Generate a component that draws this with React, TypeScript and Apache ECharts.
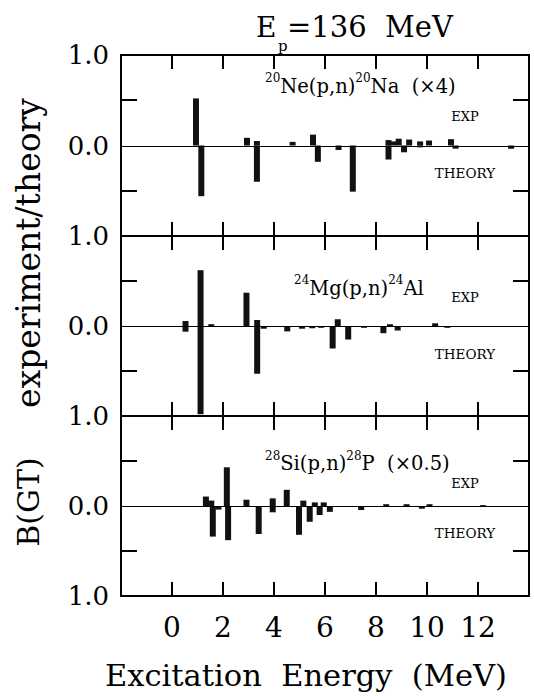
import React, { useEffect, useRef } from "react";
import * as echarts from "echarts";

// Excitation energy (MeV) / B(GT) pairs, EXP above axis, THEORY below
const neExp = [[0.94, 0.52], [2.94, 0.085], [3.33, 0.05], [4.73, 0.04], [5.53, 0.12], [8.49, 0.06], [8.69, 0.045], [8.89, 0.075], [9.3, 0.066], [9.73, 0.045], [10.08, 0.055], [10.94, 0.07]];
const neTheory = [[1.15, -0.56], [3.33, -0.4], [5.72, -0.18], [6.53, -0.05], [7.09, -0.51], [8.49, -0.155], [9.1, -0.075], [9.73, -0.02], [11.12, -0.035], [13.3, -0.035]];

const mgExp = [[0.53, 0.055], [1.12, 0.62], [1.54, 0.02], [2.92, 0.37], [3.34, 0.067], [6.5, 0.075], [8.55, 0.02], [10.32, 0.03]];
const mgTheory = [[0.53, -0.063], [1.12, -0.98], [3.34, -0.53], [3.6, -0.03], [4.52, -0.06], [5.1, -0.03], [5.5, -0.025], [5.85, -0.02], [6.3, -0.25], [6.91, -0.15], [7.53, -0.02], [8.29, -0.08], [8.85, -0.05], [10.8, -0.02]];

const siExp = [[1.33, 0.105], [1.54, 0.06], [2.15, 0.43], [2.92, 0.07], [3.95, 0.085], [4.5, 0.18], [5.15, 0.06], [5.6, 0.04], [5.95, 0.04], [8.4, 0.02], [9.2, 0.02], [10.1, 0.02], [12.2, 0.01]];
const siTheory = [[1.6, -0.34], [1.82, -0.04], [2.2, -0.38], [3.4, -0.31], [3.95, -0.07], [4.98, -0.32], [5.4, -0.175], [5.79, -0.1], [6.19, -0.065], [6.55, -0.01], [7.42, -0.045], [9.8, -0.03]];

const xTickLabels = [0, 2, 4, 6, 8, 10, 12];
const xTickValues = [0, 2, 4, 6, 8, 10, 12];
const yTickValues = [-0.5, 0.5];
const panelLabels = [
  { iso: "20", a: "Ne(p,n)", iso2: "20", b: "Na  (\u00d74)" },
  { iso: "24", a: "Mg(p,n)", iso2: "24", b: "Al" },
  { iso: "28", a: "Si(p,n)", iso2: "28", b: "P  (\u00d70.5)" },
];
const panelData = [
  [neExp, neTheory],
  [mgExp, mgTheory],
  [siExp, siTheory],
];

const FONT = "DejaVu Serif";

export default function App() {
  const ref = useRef<HTMLDivElement>(null);
  useEffect(() => {
    if (!ref.current) return;
    const chart = echarts.init(ref.current, undefined, { renderer: "svg" });
    const tops = [55, 236, 416];
    const heights = [181, 180, 180];
    const grids: any[] = [];
    const xAxes: any[] = [];
    const yAxes: any[] = [];
    const series: any[] = [];
    const fill = { fill: "#000" };
    const r = (v: number) => Math.round(v);
    for (let i = 0; i < 3; i++) {
      grids.push({ left: 121, width: 408, top: tops[i], height: heights[i], outerBoundsMode: "none" });
      const last = i === 2;
      xAxes.push({
        type: "value", gridIndex: i, position: "bottom", min: -2, max: 14, interval: 2,
        axisLine: { show: false, onZero: false }, splitLine: { show: false },
        axisTick: { show: false },
        axisLabel: {
          show: last, margin: 17, fontFamily: FONT, fontSize: 28, color: "#000",
          formatter: (v: number) => (xTickLabels.includes(v) ? String(v) : ""),
        },
      });
      yAxes.push({
        type: "value", gridIndex: i, position: "left", min: -1, max: 1, interval: 0.5,
        axisLine: { show: false, onZero: false }, splitLine: { show: false },
        axisTick: { show: false },
        axisLabel: {
          show: true, margin: 12, fontFamily: FONT, fontSize: 26, color: "#000",
          showMinLabel: true, showMaxLabel: true,
          formatter: (v: number) => {
            if (v === 0) return "0.0";
            if (v === 1) return "1.0";
            if (v === -1 && last) return "1.0";
            return "";
          },
        },
      });
      const [exp, th] = panelData[i];
      series.push({
        type: "bar", name: "EXP" + i, xAxisIndex: i, yAxisIndex: i,
        data: exp, barWidth: 6, barGap: "-100%", itemStyle: { color: "#111" },
      });
      series.push({
        type: "bar", name: "THEORY" + i, xAxisIndex: i, yAxisIndex: i,
        data: th, barWidth: 6, barGap: "-100%", itemStyle: { color: "#111" },
      });
      // frame + zero line, drawn as filled strips
      series.push({
        type: "custom", xAxisIndex: i, yAxisIndex: i, silent: true, clip: false, z: 5,
        data: [[0, 0]],
        renderItem: (params: any, api: any) => {
          const cs = params.coordSys;
          const y0 = r(api.coord([0, 0])[1]);
          const x1 = r(cs.x), x2 = r(cs.x + cs.width), y1 = r(cs.y), y2 = r(cs.y + cs.height);
          return {
            type: "group",
            children: [
              { type: "rect", shape: { x: x1 - 1, y: y1 - 1, width: x2 - x1 + 2, height: 2 }, style: fill },
              { type: "rect", shape: { x: x1 - 1, y: y2 - 1, width: x2 - x1 + 2, height: 2 }, style: fill },
              { type: "rect", shape: { x: x1 - 1, y: y1 - 1, width: 2, height: y2 - y1 + 2 }, style: fill },
              { type: "rect", shape: { x: x2 - 1, y: y1 - 1, width: 2, height: y2 - y1 + 2 }, style: fill },
              { type: "rect", shape: { x: x1, y: y0, width: x2 - x1, height: 1 }, style: fill },
            ],
          };
        },
      });
      // x ticks, top and bottom, pointing inward
      series.push({
        type: "custom", xAxisIndex: i, yAxisIndex: i, silent: true, clip: false, z: 5,
        data: xTickValues.map((v) => [v, 0]),
        renderItem: (params: any, api: any) => {
          const cs = params.coordSys;
          const x = r(api.coord([api.value(0), 0])[0]);
          const yt = r(cs.y), yb = r(cs.y + cs.height);
          return {
            type: "group",
            children: [
              { type: "rect", shape: { x: x - 1, y: yt, width: 2, height: 14 }, style: fill },
              { type: "rect", shape: { x: x - 1, y: yb - 14, width: 2, height: 14 }, style: fill },
            ],
          };
        },
      });
      // y ticks, left and right, pointing inward
      series.push({
        type: "custom", xAxisIndex: i, yAxisIndex: i, silent: true, clip: false, z: 5,
        data: yTickValues.map((v) => [0, v]),
        renderItem: (params: any, api: any) => {
          const cs = params.coordSys;
          const y = r(api.coord([0, api.value(1)])[1]);
          const xl = r(cs.x), xr = r(cs.x + cs.width);
          return {
            type: "group",
            children: [
              { type: "rect", shape: { x: xl, y: y - 1, width: 16, height: 2 }, style: fill },
              { type: "rect", shape: { x: xr - 16, y: y - 1, width: 16, height: 2 }, style: fill },
            ],
          };
        },
      });
    }

    const annY = [84, 286, 461.5];
    const annX = [265, 294, 265];
    const expY = [116, 297, 483];
    const thY = [173, 354, 533];
    const graphics: any[] = [];
    for (let i = 0; i < 3; i++) {
      const p = panelLabels[i];
      graphics.push({
        type: "text", left: annX[i], top: annY[i] - 12,
        style: {
          text: `{s|${p.iso}}{m|${p.a}}{s|${p.iso2}}{m|${p.b}}`,
          rich: {
            m: { fontFamily: FONT, fontSize: 19.5, lineHeight: 24, fill: "#000", verticalAlign: "bottom" },
            s: { fontFamily: FONT, fontSize: 12, lineHeight: 24, fill: "#000", verticalAlign: "top" },
          },
        },
      });
      graphics.push({
        type: "text", x: 465, y: expY[i],
        style: { text: "EXP", fontFamily: FONT, fontSize: 13, fill: "#000", align: "center", verticalAlign: "middle" },
      });
      graphics.push({
        type: "text", x: 465, y: thY[i],
        style: { text: "THEORY", fontFamily: FONT, fontSize: 13.5, fill: "#000", align: "center", verticalAlign: "middle" },
      });
    }
    // Title E_p = 136 MeV
    graphics.push({ type: "text", x: 256, y: 27, style: { text: "E", fontFamily: FONT, fontSize: 28, fill: "#000", align: "left", verticalAlign: "middle" } });
    graphics.push({ type: "text", x: 278, y: 46, style: { text: "p", fontFamily: FONT, fontSize: 15, fill: "#000", align: "left", verticalAlign: "middle" } });
    graphics.push({ type: "text", x: 287, y: 27, style: { text: "=136  MeV", fontFamily: FONT, fontSize: 29, fill: "#000", align: "left", verticalAlign: "middle" } });
    // Axis titles
    graphics.push({ type: "text", x: 306, y: 675, style: { text: "Excitation  Energy  (MeV)", fontFamily: FONT, fontSize: 30.5, fill: "#000", align: "center", verticalAlign: "middle" } });
    graphics.push({ type: "text", x: 28, y: 253, rotation: Math.PI / 2, style: { text: "experiment/theory", fontFamily: FONT, fontSize: 33, fill: "#000", align: "center", verticalAlign: "middle" } });
    graphics.push({ type: "text", x: 28, y: 502, rotation: Math.PI / 2, style: { text: "B(GT)", fontFamily: FONT, fontSize: 30, fill: "#000", align: "center", verticalAlign: "middle" } });

    chart.setOption({
      animation: false,
      backgroundColor: "#fff",
      grid: grids,
      xAxis: xAxes,
      yAxis: yAxes,
      series,
      graphic: graphics,
    });
    return () => chart.dispose();
  }, []);
  return <div ref={ref} style={{ position: "absolute", left: 0, top: 0, width: 534, height: 696 }} />;
}
